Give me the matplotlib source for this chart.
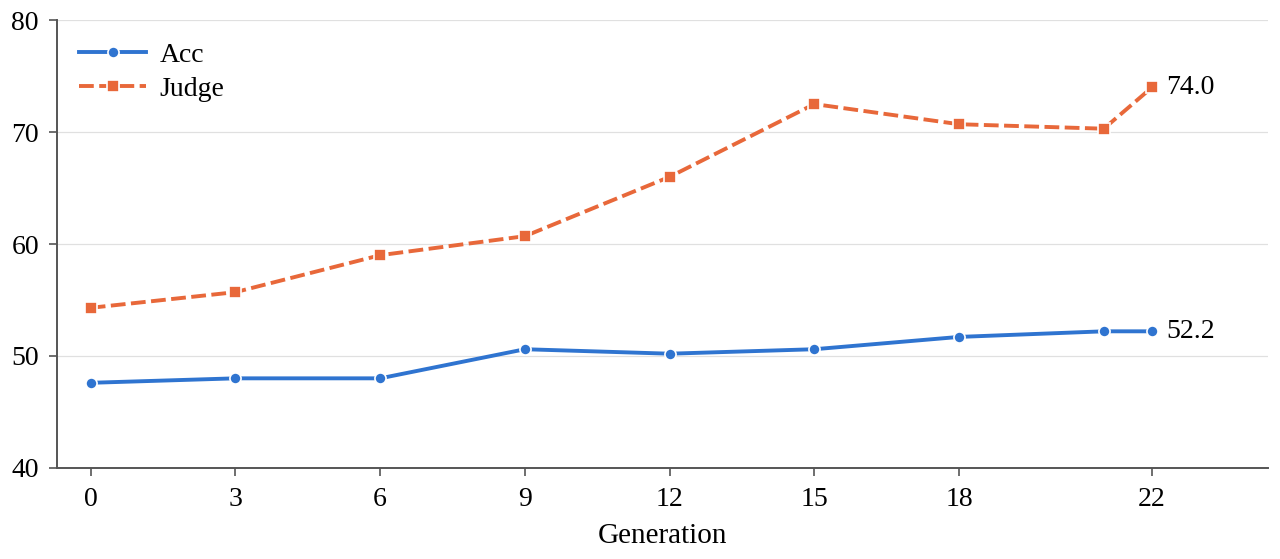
"""Acc / Judge scores across generations."""

import matplotlib

matplotlib.use("Agg")
import matplotlib.pyplot as plt

generations = [0, 3, 6, 9, 12, 15, 18, 21, 22]
acc = [47.6, 48.0, 48.0, 50.6, 50.2, 50.6, 51.7, 52.2, 52.2]
judge = [54.3, 55.7, 59.0, 60.7, 66.0, 72.5, 70.7, 70.3, 74.0]
xticks = [0, 3, 6, 9, 12, 15, 18, 22]

plt.rcParams["font.family"] = ["Liberation Serif", "DejaVu Serif"]
plt.rcParams["font.size"] = 20

fig = plt.figure(figsize=(12.8, 5.59), dpi=100)
ax = fig.add_axes([0.0445, 0.163, 0.946, 0.801])

blue = "#2f74d0"
orange = "#e8683a"
ax.plot(generations, acc, color=blue, lw=2.8, marker="o", ms=8, mec="white", mew=1.2, label="Acc", zorder=3)
ax.plot(generations, judge, color=orange, lw=2.8, ls=(0, (3.8, 1.4)), marker="s", ms=8, mec="white", mew=1.2,
        label="Judge", zorder=3)

ax.annotate(f"{acc[-1]:.1f}", (generations[-1], acc[-1]), xytext=(10, 0), textcoords="offset points", va="center")
ax.annotate(f"{judge[-1]:.1f}", (generations[-1], judge[-1]), xytext=(10, 0), textcoords="offset points", va="center")

ax.set_xlim(-0.7, 24.4)
ax.set_ylim(40, 80)
ax.set_xticks(xticks)
ax.set_yticks([40, 50, 60, 70, 80])
ax.set_xlabel("Generation", fontsize=21, labelpad=8)
ax.grid(axis="y", color="#e0e0e0", lw=0.9)
ax.set_axisbelow(True)
for side in ["top", "right"]:
    ax.spines[side].set_visible(False)
for side in ["left", "bottom"]:
    ax.spines[side].set_color("#555555")
    ax.spines[side].set_linewidth(1.4)
ax.tick_params(colors="#555555", labelcolor="black", width=1.2, length=6)
ax.tick_params(axis="x", pad=8)
ax.tick_params(axis="y", pad=7)

ax.legend(loc="upper left", frameon=False, handlelength=2.4, handletextpad=0.5, borderaxespad=0.5,
          borderpad=0.3, labelspacing=0.3)

fig.savefig("out.png", dpi=100)
